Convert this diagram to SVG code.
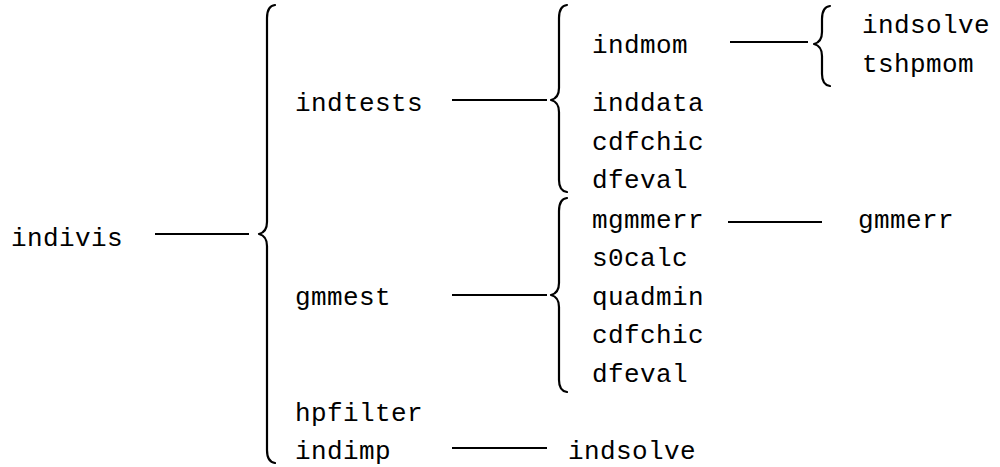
<svg xmlns="http://www.w3.org/2000/svg" width="1000" height="467" viewBox="0 0 1000 467">
<style>
text{font-family:"Liberation Mono","DejaVu Sans Mono",monospace;font-size:26px;letter-spacing:0.4px;fill:#000}
.ln{stroke:#000;stroke-width:2;fill:none}
.br{stroke:#000;stroke-width:2.2;fill:none;stroke-linejoin:round;stroke-linecap:round}
</style>
<rect width="1000" height="467" fill="#fff"/>
<g id="connectors">
<line class="ln" x1="155" y1="234" x2="249" y2="234"/>
<line class="ln" x1="452" y1="100" x2="547" y2="100"/>
<line class="ln" x1="730" y1="42" x2="808" y2="42"/>
<line class="ln" x1="728" y1="222" x2="822" y2="222"/>
<line class="ln" x1="452" y1="295" x2="547" y2="295"/>
<line class="ln" x1="452" y1="448" x2="547" y2="448"/>
<path class="br" d="M275,5 Q267,6 267,18 L267,222 Q267,232 259,234 Q267,236 267,246 L267,450 Q267,462 275,463"/>
<path class="br" d="M567,5 Q559,6 559,18 L559,88 Q559,98 551,100 Q559,102 559,112 L559,180 Q559,191 567,192"/>
<path class="br" d="M567,198 Q559,199 559,211 L559,283 Q559,293 551,295 Q559,297 559,307 L559,380 Q559,391 567,392"/>
<path class="br" d="M830,6 Q822,7 822,19 L822,32 Q822,42 814,44 Q822,46 822,56 L822,74 Q822,85 830,86"/>
</g>
<g id="indivis"><text x="11" y="246">indivis</text></g>
<g id="indtests"><text x="295" y="111">indtests</text></g>
<g id="gmmest"><text x="295" y="305">gmmest</text></g>
<g id="hpfilter"><text x="295" y="421">hpfilter</text></g>
<g id="indimp"><text x="295" y="459">indimp</text></g>
<g id="indsolve2"><text x="568" y="459">indsolve</text></g>
<g id="indmom"><text x="592" y="53">indmom</text></g>
<g id="inddata"><text x="592" y="111">inddata</text></g>
<g id="cdfchic1"><text x="592" y="150">cdfchic</text></g>
<g id="dfeval1"><text x="592" y="188">dfeval</text></g>
<g id="mgmmerr"><text x="592" y="228">mgmmerr</text></g>
<g id="s0calc"><text x="592" y="266">s0calc</text></g>
<g id="quadmin"><text x="592" y="305">quadmin</text></g>
<g id="cdfchic2"><text x="592" y="343">cdfchic</text></g>
<g id="dfeval2"><text x="592" y="382">dfeval</text></g>
<g id="gmmerr"><text x="858" y="228">gmmerr</text></g>
<g id="indsolve1"><text x="862" y="33">indsolve</text></g>
<g id="tshpmom"><text x="862" y="72">tshpmom</text></g>
</svg>
